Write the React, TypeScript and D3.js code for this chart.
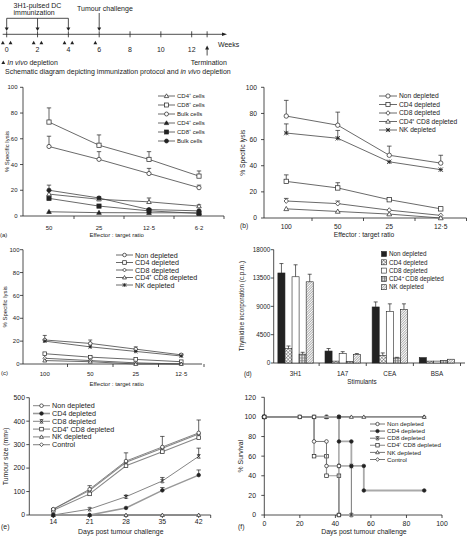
import React from 'react';
import * as d3 from 'd3';

const FONT = '"Liberation Sans", Arial, Helvetica, sans-serif';
const INK = '#222';

// ---------- Schematic ----------
const schedWeeks = [0, 2, 4, 6, 8, 10, 12];
const immunWeeks = [0, 2, 4];
const challengeWeek = 6;
const depletionWeeks = [-0.25, 0.25, 1.75, 2.25, 3.75, 4.25, 5.75];
const terminationWeek = 13;

// ---------- Panel a ----------
const ratiosA = ['50', '25', '12·5', '6·2'];
const aCD4open = [17, 13, 11, 7.7];
const aCD4openErr = [0, 0, 3, 1];
const aCD8open = [73, 55, 44, 31];
const aCD8openErr = [11, 8, 6, 4];
const aBulkOpen = [54, 44, 33, 22];
const aBulkOpenErr = [8, 6, 4, 2];
const aCD4filled = [3.3, 2.6, 2.5, 2.5];
const aCD8filled = [13.7, 7.7, 4, 2];
const aBulkFilled = [20, 14, 5, 4];
const aBulkFilledErr = [4, 1, 0, 0];

// ---------- Panel b ----------
const ratiosB = ['100', '50', '25', '12·5'];
const bNon = [78, 71, 48, 42];
const bNonErr = [12, 10, 7, 6];
const bCD4 = [28, 23, 14, 7];
const bCD4Err = [5, 4, 1, 0];
const bCD8 = [13, 11, 6, 2];
const bCD8Err = [2, 2, 0, 0];
const bCD4CD8 = [7, 5, 3, 0];
const bNK = [65, 61, 43, 37];
const bNKErr = [7, 6, 0, 0];

// ---------- Panel c ----------
const cNon = [21, 18, 13, 8];
const cNonErr = [4, 3, 2, 1];
const cCD4 = [9, 6, 4, 2];
const cCD8 = [5, 3, 1, 0];
const cCD4CD8 = [3, 2, 0, 0];
const cNK = [20, 15, 11, 7];

// ---------- Panel d ----------
const stimulants = ['3H1', '1A7', 'CEA', 'BSA'];
const dGroups = ['Non depleted', 'CD4 depleted', 'CD8 depleted', 'CD4⁺ CD8 depleted', 'NK depleted'];
const dNon = [14300, 1900, 8900, 850];
const dNonErr = [1500, 400, 800, 0];
const dCD4 = [2300, 300, 1200, 300];
const dCD4Err = [400, 0, 400, 0];
const dCD8 = [13700, 1500, 8200, 300];
const dCD8Err = [1900, 300, 1200, 0];
const dCD4CD8 = [1400, 250, 800, 400];
const dCD4CD8Err = [300, 0, 100, 0];
const dNK = [12900, 1350, 8500, 600];
const dNKErr = [1200, 150, 900, 0];
const dTicks = [0, 4500, 9000, 13500, 18000];

// ---------- Panel e ----------
const daysE = [14, 21, 28, 35, 42];
const eNon = [25, 110, 230, 290, 350];
const eNonErr = [0, 15, 35, 45, 55];
const eCD4 = [0, 0, 30, 105, 170];
const eCD4Err = [0, 0, 0, 12, 22];
const eCD8 = [0, 25, 78, 145, 250];
const eCD8Err = [0, 0, 5, 15, 35];
const eCD4CD8 = [20, 90, 210, 270, 330];
const eNK = [0, 0, 0, 0, 0];
const eControl = [25, 105, 225, 285, 345];

// ---------- Panel f ----------
const fNon: [number, number][] = [[0, 100], [20, 100], [28, 100], [28, 75], [35, 75], [35, 50], [42, 50], [42, 0]];
const fCD4: [number, number][] = [[0, 100], [42, 100], [42, 75], [49, 75], [49, 50], [56, 50], [56, 25], [90, 25]];
const fCD8: [number, number][] = [[0, 100], [35, 100], [42, 100], [42, 50], [49, 50], [49, 0]];
const fCD4CD8: [number, number][] = [[0, 100], [20, 100], [28, 100], [28, 60], [35, 60], [35, 40], [42, 40], [42, 0]];
const fNK: [number, number][] = [[0, 100], [35, 100], [49, 100], [56, 100], [90, 100]];
const fControl: [number, number][] = [[0, 100], [90, 100]];

type MT = 'circle' | 'square' | 'triangle' | 'diamond' | 'asterisk' | 'x';

function Marker({ t, x, y, s, fill }: { t: MT; x: number; y: number; s: number; fill: string }) {
  const h = s / 2;
  const sw = 0.7;
  if (t === 'circle') return <circle cx={x} cy={y} r={h} fill={fill} stroke={INK} strokeWidth={sw} />;
  if (t === 'square') return <rect x={x - h} y={y - h} width={s} height={s} fill={fill} stroke={INK} strokeWidth={sw} />;
  if (t === 'triangle')
    return <path d={`M${x},${y - h * 1.1}L${x + h * 1.1},${y + h * 0.8}L${x - h * 1.1},${y + h * 0.8}Z`} fill={fill} stroke={INK} strokeWidth={sw} />;
  if (t === 'diamond')
    return <path d={`M${x},${y - h * 1.1}L${x + h},${y}L${x},${y + h * 1.1}L${x - h},${y}Z`} fill={fill} stroke={INK} strokeWidth={sw} />;
  if (t === 'asterisk')
    return (
      <g stroke={INK} strokeWidth={0.8}>
        <line x1={x - h} y1={y - h} x2={x + h} y2={y + h} />
        <line x1={x - h} y1={y + h} x2={x + h} y2={y - h} />
        <line x1={x} y1={y - h} x2={x} y2={y + h} />
        <line x1={x - h} y1={y} x2={x + h} y2={y} />
      </g>
    );
  return (
    <g stroke={INK} strokeWidth={0.8}>
      <line x1={x - h} y1={y - h} x2={x + h} y2={y + h} />
      <line x1={x - h} y1={y + h} x2={x + h} y2={y - h} />
      <line x1={x - h * 0.7} y1={y - h} x2={x + h * 0.7} y2={y - h} />
      <line x1={x - h * 0.7} y1={y + h} x2={x + h * 0.7} y2={y + h} />
    </g>
  );
}

type Series = {
  name: string;
  values: number[];
  errs?: number[];
  m: MT;
  fill: string;
  lc?: string;
  lw?: number;
};

function LineSeries({ xs, y, s, ms, capW }: { xs: number[]; y: (v: number) => number; s: Series; ms: number; capW: number }) {
  const pts: [number, number][] = s.values.map((v, i) => [xs[i], y(v)]);
  const line = d3.line()(pts) || '';
  return (
    <g>
      <path d={line} fill="none" stroke={s.lc || '#444'} strokeWidth={s.lw || 0.8} />
      {s.errs &&
        s.values.map((v, i) =>
          s.errs![i] > 0 ? (
            <g key={'e' + i} stroke={INK} strokeWidth={0.7}>
              <line x1={xs[i]} x2={xs[i]} y1={y(v)} y2={y(v + s.errs![i])} />
              <line x1={xs[i] - capW} x2={xs[i] + capW} y1={y(v + s.errs![i])} y2={y(v + s.errs![i])} />
            </g>
          ) : null
        )}
      {pts.map((p, i) => (
        <Marker key={i} t={s.m} x={p[0]} y={p[1]} s={ms} fill={s.fill} />
      ))}
    </g>
  );
}

function Legend({ series, x0, x1, rows, fs, ms }: { series: Series[]; x0: number; x1: number; rows: number[]; fs: number; ms: number }) {
  return (
    <g>
      {series.map((s, i) => (
        <g key={i}>
          <line x1={x0} x2={x1} y1={rows[i]} y2={rows[i]} stroke={s.lc || '#444'} strokeWidth={s.lw || 0.8} />
          <Marker t={s.m} x={(x0 + x1) / 2} y={rows[i]} s={ms} fill={s.fill} />
          <text x={x1 + 2} y={rows[i]} dy="0.35em" fontSize={fs}>
            {s.name}
          </text>
        </g>
      ))}
    </g>
  );
}

function YAxis({ x, y, ticks, fs, fmt, labelRight }: { x: number; y: d3.ScaleLinear<number, number>; ticks: number[]; fs: number; fmt?: (v: number) => string; labelRight: number }) {
  const [d0, d1] = y.domain();
  return (
    <g>
      <line x1={x} x2={x} y1={y(d0)} y2={y(d1)} stroke={INK} strokeWidth={0.8} />
      {ticks.map((t) => (
        <g key={t}>
          <line x1={x - 3} x2={x} y1={y(t)} y2={y(t)} stroke={INK} strokeWidth={0.8} />
          <text x={labelRight} y={y(t)} dy="0.35em" textAnchor="end" fontSize={fs}>
            {fmt ? fmt(t) : String(t)}
          </text>
        </g>
      ))}
    </g>
  );
}

function Schematic() {
  const wx = d3.scaleLinear().domain([0, 12]).range([6.7, 191.7]);
  const ly = 34.3;
  const arrowDown = (x: number, y1: number, y2: number, k: string) => (
    <g key={k}>
      <line x1={x} x2={x} y1={y1} y2={y2 - 3} stroke={INK} strokeWidth={0.8} />
      <path d={`M${x - 2},${y2 - 3.5}L${x + 2},${y2 - 3.5}L${x},${y2}Z`} fill={INK} />
    </g>
  );
  const tri = (x: number, y: number, k: string) => <path key={k} d={`M${x},${y - 2}L${x + 1.9},${y + 1.6}L${x - 1.9},${y + 1.6}Z`} fill={INK} />;
  return (
    <g fontSize={7}>
      <line x1={2.7} x2={224} y1={ly} y2={ly} stroke={INK} strokeWidth={0.8} />
      <path d={`M222,${ly - 1.8}L227,${ly}L222,${ly + 1.8}Z`} fill={INK} />
      {[...schedWeeks, terminationWeek].map((w) => (
        <line key={'t' + w} x1={wx(w)} x2={wx(w)} y1={ly - 3} y2={ly + 3} stroke={INK} strokeWidth={0.8} />
      ))}
      {schedWeeks.map((w) => (
        <text key={'l' + w} x={wx(w)} y={51.5} textAnchor="middle">
          {w}
        </text>
      ))}
      <line x1={wx(immunWeeks[0])} x2={wx(immunWeeks[immunWeeks.length - 1])} y1={18.3} y2={18.3} stroke={INK} strokeWidth={0.8} />
      {immunWeeks.map((w) => arrowDown(wx(w), 18.3, 31, 'i' + w))}
      {arrowDown(wx(challengeWeek), 13, 31, 'c')}
      {depletionWeeks.map((w, i) => tri(wx(w), 42.7, 'd' + i))}
      <g>
        <line x1={wx(terminationWeek)} x2={wx(terminationWeek)} y1={49} y2={55.5} stroke={INK} strokeWidth={0.8} />
        <path d={`M${wx(terminationWeek) - 2},${49.5}L${wx(terminationWeek) + 2},${49.5}L${wx(terminationWeek)},${45.5}Z`} fill={INK} />
      </g>
      <text x={13.5} y={7.5}>3H1-pulsed DC</text>
      <text x={13.5} y={15.3}>immunization</text>
      <text x={77} y={11}>Tumour challenge</text>
      <text x={218} y={47.3}>Weeks</text>
      {tri(3.3, 62.4, 'leg')}
      <text x={7.3} y={64.5}>
        <tspan fontStyle="italic">In vivo</tspan> depletion
      </text>
      <text x={190.7} y={65}>Termination</text>
      <text x={5} y={74.3}>
        Schematic diagram depicting immunization protocol and <tspan fontStyle="italic">in vivo</tspan> depletion
      </text>
    </g>
  );
}

function PanelA() {
  const y = d3.scaleLinear().domain([0, 100]).range([216, 87.3]);
  const x = d3.scaleBand<string>().domain(ratiosA).range([24, 224]);
  const xs = ratiosA.map((c) => (x(c) as number) + x.bandwidth() / 2);
  const series: Series[] = [
    { name: 'CD4⁺ cells', values: aCD4open, errs: aCD4openErr, m: 'triangle', fill: '#fff' },
    { name: 'CD8⁺ cells', values: aCD8open, errs: aCD8openErr, m: 'square', fill: '#fff' },
    { name: 'Bulk cells', values: aBulkOpen, errs: aBulkOpenErr, m: 'circle', fill: '#fff' },
    { name: 'CD4⁺ cells', values: aCD4filled, m: 'triangle', fill: INK },
    { name: 'CD8⁺ cells', values: aCD8filled, m: 'square', fill: INK },
    { name: 'Bulk cells', values: aBulkFilled, errs: aBulkFilledErr, m: 'circle', fill: INK },
  ];
  const fs = 6;
  return (
    <g fontSize={fs}>
      <YAxis x={23} y={y} ticks={[0, 20, 40, 60, 80, 100]} fs={fs} labelRight={17.5} />
      <line x1={23} x2={224} y1={216} y2={216} stroke={INK} strokeWidth={0.8} />
      {ratiosA.map((c) => (
        <line key={c} x1={(x(c) as number) + x.bandwidth()} x2={(x(c) as number) + x.bandwidth()} y1={216} y2={219} stroke={INK} strokeWidth={0.8} />
      ))}
      {ratiosA.map((c, i) => (
        <text key={c} x={xs[i]} y={229.5} textAnchor="middle">
          {c}
        </text>
      ))}
      <text x={116.7} y={236.7} textAnchor="middle">Effector : target ratio</text>
      <text x={0} y={236.5}>(a)</text>
      <text transform={`translate(9,${(87.3 + 216) / 2}) rotate(-90)`} textAnchor="middle">
        % Specific lysis
      </text>
      {series.map((s, i) => (
        <LineSeries key={i} xs={xs} y={y} s={s} ms={4.2} capW={2.2} />
      ))}
      <Legend series={series} x0={158} x1={175} rows={[96, 105, 114, 123, 132, 141]} fs={fs} ms={4} />
    </g>
  );
}

function PanelB() {
  const y = d3.scaleLinear().domain([0, 100]).range([218, 87.3]);
  const x = d3.scaleBand<string>().domain(ratiosB).range([260.5, 466.5]);
  const xs = ratiosB.map((c) => (x(c) as number) + x.bandwidth() / 2);
  const series: Series[] = [
    { name: 'Non depleted', values: bNon, errs: bNonErr, m: 'circle', fill: '#fff' },
    { name: 'CD4 depleted', values: bCD4, errs: bCD4Err, m: 'square', fill: '#fff' },
    { name: 'CD8 depleted', values: bCD8, errs: bCD8Err, m: 'diamond', fill: '#fff' },
    { name: 'CD4⁺ CD8 depleted', values: bCD4CD8, m: 'triangle', fill: '#fff' },
    { name: 'NK depleted', values: bNK, errs: bNKErr, m: 'asterisk', fill: '#fff' },
  ];
  const fs = 6.7;
  return (
    <g fontSize={fs}>
      <YAxis x={264} y={y} ticks={[0, 20, 40, 60, 80, 100]} fs={fs} labelRight={257} />
      <line x1={264} x2={466.5} y1={218} y2={218} stroke={INK} strokeWidth={0.8} />
      {ratiosB.map((c) => (
        <line key={c} x1={(x(c) as number) + x.bandwidth()} x2={(x(c) as number) + x.bandwidth()} y1={218} y2={221} stroke={INK} strokeWidth={0.8} />
      ))}
      {ratiosB.map((c, i) => (
        <text key={c} x={xs[i]} y={229.3} textAnchor="middle">
          {c}
        </text>
      ))}
      <text x={364} y={237} textAnchor="middle">Effector : target ratio</text>
      <text x={240} y={227.5}>(b)</text>
      <text transform={`translate(245,${(87.3 + 218) / 2}) rotate(-90)`} textAnchor="middle">
        % Specific lysis
      </text>
      {series.map((s, i) => (
        <LineSeries key={i} xs={xs} y={y} s={s} ms={4.4} capW={2.3} />
      ))}
      <Legend series={series} x0={379} x1={397} rows={[96, 104.5, 113, 121.5, 130]} fs={fs} ms={4.2} />
    </g>
  );
}

function PanelC() {
  const y = d3.scaleLinear().domain([0, 100]).range([364, 249.7]);
  const x = d3.scaleBand<string>().domain(ratiosB).range([22, 204]);
  const xs = ratiosB.map((c) => (x(c) as number) + x.bandwidth() / 2);
  const series: Series[] = [
    { name: 'Non depleted', values: cNon, errs: cNonErr, m: 'circle', fill: '#fff' },
    { name: 'CD4 depleted', values: cCD4, m: 'square', fill: '#fff' },
    { name: 'CD8 depleted', values: cCD8, m: 'diamond', fill: '#fff' },
    { name: 'CD4⁺ CD8 depleted', values: cCD4CD8, m: 'triangle', fill: '#fff' },
    { name: 'NK depleted', values: cNK, m: 'asterisk', fill: '#fff' },
  ];
  const fs = 6;
  return (
    <g fontSize={fs}>
      <YAxis x={23} y={y} ticks={[0, 20, 40, 60, 80, 100]} fs={fs} labelRight={19.5} />
      <line x1={23} x2={202} y1={364} y2={364} stroke={INK} strokeWidth={0.8} />
      {ratiosB.map((c) => (
        <line key={c} x1={(x(c) as number) + x.bandwidth()} x2={(x(c) as number) + x.bandwidth()} y1={364} y2={367} stroke={INK} strokeWidth={0.8} />
      ))}
      {ratiosB.map((c, i) => (
        <text key={c} x={xs[i]} y={376} textAnchor="middle">
          {c}
        </text>
      ))}
      <text x={116.7} y={385.5} textAnchor="middle">Effector : target ratio</text>
      <text x={1} y={374.5}>(c)</text>
      <text transform={`translate(7,${(249.7 + 364) / 2}) rotate(-90)`} textAnchor="middle">
        % Specific lysis
      </text>
      {series.map((s, i) => (
        <LineSeries key={i} xs={xs} y={y} s={s} ms={3.6} capW={2} />
      ))}
      <Legend series={series} x0={116} x1={133} rows={[255, 262.5, 270, 277.5, 285]} fs={7.2} ms={3.6} />
    </g>
  );
}

function PanelD() {
  const y = d3.scaleLinear().domain([0, 18000]).range([363, 249.7]);
  const x = d3.scaleBand<string>().domain(stimulants).range([272, 460.5]).paddingInner(0.25).paddingOuter(0.125);
  const xi = d3.scaleBand<string>().domain(dGroups).range([0, x.bandwidth()]);
  const vals = [dNon, dCD4, dCD8, dCD4CD8, dNK];
  const errs = [dNonErr, dCD4Err, dCD8Err, dCD4CD8Err, dNKErr];
  const fills = [INK, 'url(#pCross)', '#fff', 'url(#pGrid)', 'url(#pDiag)'];
  const fs = 6.3;
  const step = x.step();
  return (
    <g fontSize={fs}>
      <defs>
        <pattern id="pCross" width={2.5} height={2.5} patternUnits="userSpaceOnUse" patternTransform="rotate(45)">
          <rect width={2.5} height={2.5} fill="#fff" />
          <line x1={0} y1={0} x2={0} y2={2.5} stroke="#555" strokeWidth={0.9} />
          <line x1={0} y1={0} x2={2.5} y2={0} stroke="#555" strokeWidth={0.9} />
        </pattern>
        <pattern id="pGrid" width={1.6} height={1.6} patternUnits="userSpaceOnUse">
          <rect width={1.6} height={1.6} fill="#fff" />
          <line x1={0.4} y1={0} x2={0.4} y2={1.6} stroke="#555" strokeWidth={0.6} />
          <line x1={0} y1={0.4} x2={1.6} y2={0.4} stroke="#777" strokeWidth={0.5} />
        </pattern>
        <pattern id="pDiag" width={1.8} height={1.8} patternUnits="userSpaceOnUse" patternTransform="rotate(45)">
          <rect width={1.8} height={1.8} fill="#fff" />
          <line x1={0} y1={0} x2={0} y2={1.8} stroke="#444" strokeWidth={0.8} />
        </pattern>
      </defs>
      <YAxis x={273.7} y={y} ticks={dTicks} fs={fs} labelRight={270.3} />
      <line x1={273.7} x2={465} y1={363} y2={363} stroke={INK} strokeWidth={0.8} />
      {stimulants.map((c) => {
        const tx = (x(c) as number) + x.bandwidth() + (step - x.bandwidth()) / 2;
        return <line key={c} x1={tx} x2={tx} y1={363} y2={366} stroke={INK} strokeWidth={0.8} />;
      })}
      {stimulants.map((c, ci) =>
        dGroups.map((g, gi) => {
          const bx = (x(c) as number) + (xi(g) as number);
          const v = vals[gi][ci];
          const e = errs[gi][ci];
          const cx = bx + xi.bandwidth() / 2;
          return (
            <g key={c + g}>
              {e > 0 && (
                <g stroke={INK} strokeWidth={0.7}>
                  <line x1={cx} x2={cx} y1={y(v)} y2={y(v + e)} />
                  <line x1={cx - 2} x2={cx + 2} y1={y(v + e)} y2={y(v + e)} />
                </g>
              )}
              <rect x={bx} y={y(v)} width={xi.bandwidth()} height={363 - y(v)} fill={fills[gi]} stroke={INK} strokeWidth={0.6} />
            </g>
          );
        })
      )}
      {stimulants.map((c) => (
        <text key={c} x={(x(c) as number) + x.bandwidth() / 2} y={376} textAnchor="middle">
          {c}
        </text>
      ))}
      <text x={362} y={384} textAnchor="middle">Stimulants</text>
      <text x={244} y={375.5}>(d)</text>
      <text transform={`translate(244,${306}) rotate(-90)`} textAnchor="middle">
        Thymidine incorporation (c.p.m.)
      </text>
      {dGroups.map((g, i) => {
        const ry = 254 + i * 8.3;
        return (
          <g key={g}>
            <rect x={381.5} y={ry - 2.5} width={5} height={5} fill={fills[i]} stroke={INK} strokeWidth={0.6} />
            <text x={389} y={ry} dy="0.35em">
              {g}
            </text>
          </g>
        );
      })}
    </g>
  );
}

function PanelE() {
  const y = d3.scaleLinear().domain([0, 500]).range([515, 397.7]);
  const x = d3.scalePoint<string>().domain(daysE.map(String)).range([53.3, 198.7]);
  const xs = daysE.map((d) => x(String(d)) as number);
  const series: Series[] = [
    { name: 'Non depleted', values: eNon, errs: eNonErr, m: 'circle', fill: '#fff', lc: '#666' },
    { name: 'CD4 depleted', values: eCD4, errs: eCD4Err, m: 'circle', fill: INK, lc: '#999', lw: 1.6 },
    { name: 'CD8 depleted', values: eCD8, errs: eCD8Err, m: 'x', fill: '#fff', lc: '#666' },
    { name: 'CD4⁺ CD8 depleted', values: eCD4CD8, m: 'square', fill: '#fff', lc: '#888', lw: 1.1 },
    { name: 'NK depleted', values: eNK, m: 'triangle', fill: '#fff', lc: '#666' },
    { name: 'Control', values: eControl, m: 'diamond', fill: '#fff', lc: '#888', lw: 1.1 },
  ];
  const fs = 6.9;
  return (
    <g fontSize={fs}>
      <YAxis x={29.3} y={y} ticks={[0, 100, 200, 300, 400, 500]} fs={fs} labelRight={25} />
      <line x1={29.3} x2={210.7} y1={515} y2={515} stroke={INK} strokeWidth={0.8} />
      {[...xs, 210.7].map((t, i) => (
        <line key={i} x1={t} x2={t} y1={515} y2={518} stroke={INK} strokeWidth={0.8} />
      ))}
      {daysE.map((d, i) => (
        <text key={d} x={xs[i]} y={523.5} textAnchor="middle">
          {d}
        </text>
      ))}
      <text x={120.8} y={534} textAnchor="middle">Days post tumour challenge</text>
      <text x={1} y={529}>(e)</text>
      <text transform={`translate(8,${(397.7 + 515) / 2}) rotate(-90)`} textAnchor="middle">
        Tumour size (mm²)
      </text>
      {[...series].reverse().map((s, i) => (
        <LineSeries key={i} xs={xs} y={y} s={s} ms={3.6} capW={2.2} />
      ))}
      <Legend series={series} x0={33} x1={50} rows={series.map((_, i) => 405.7 + i * 7.8)} fs={7.2} ms={3.6} />
    </g>
  );
}

function PanelF() {
  const y = d3.scaleLinear().domain([0, 120]).range([515, 397.3]);
  const x = d3.scaleLinear().domain([0, 100]).range([264.3, 442]);
  const fs = 6.9;
  const curves: { name: string; pts: [number, number][]; m: MT; fill: string; lc: string; lw: number }[] = [
    { name: 'Non depleted', pts: fNon, m: 'circle', fill: '#fff', lc: '#777', lw: 1 },
    { name: 'CD4 depleted', pts: fCD4, m: 'circle', fill: INK, lc: '#aaa', lw: 1.8 },
    { name: 'CD8 depleted', pts: fCD8, m: 'x', fill: '#fff', lc: '#777', lw: 1 },
    { name: 'CD4⁺ CD8 depleted', pts: fCD4CD8, m: 'square', fill: '#fff', lc: '#999', lw: 1.2 },
    { name: 'NK depleted', pts: fNK, m: 'triangle', fill: '#fff', lc: '#777', lw: 1 },
    { name: 'Control', pts: fControl, m: 'diamond', fill: '#fff', lc: '#777', lw: 1 },
  ];
  const legSeries: Series[] = curves.map((c) => ({ name: c.name, values: [], m: c.m, fill: c.fill, lc: c.lc, lw: c.lw }));
  return (
    <g fontSize={fs}>
      <YAxis x={264.3} y={y} ticks={[0, 20, 40, 60, 80, 100, 120]} fs={fs} labelRight={256} />
      <line x1={264.3} x2={442} y1={515} y2={515} stroke={INK} strokeWidth={0.8} />
      {[0, 20, 40, 60, 80, 100].map((t) => (
        <g key={t}>
          <line x1={x(t)} x2={x(t)} y1={515} y2={518} stroke={INK} strokeWidth={0.8} />
          <text x={x(t)} y={526.3} textAnchor="middle">
            {t}
          </text>
        </g>
      ))}
      <text x={364} y={534} textAnchor="middle">Days post tumour challenge</text>
      <text x={238} y={529}>(f)</text>
      <text transform={`translate(243,${(397.3 + 515) / 2}) rotate(-90)`} textAnchor="middle">
        % Survival
      </text>
      {[...curves].reverse().map((c, i) => {
        const pts = c.pts.map((p) => [x(p[0]), y(p[1])] as [number, number]);
        return (
          <g key={i}>
            <path d={d3.line()(pts) || ''} fill="none" stroke={c.lc} strokeWidth={c.lw} />
            {pts.map((p, j) => (
              <Marker key={j} t={c.m} x={p[0]} y={p[1]} s={3.6} fill={c.fill} />
            ))}
          </g>
        );
      })}
      <Legend series={legSeries} x0={370} x1={385} rows={curves.map((_, i) => 424 + i * 7.1)} fs={6.2} ms={3.4} />
    </g>
  );
}

export default function App() {
  return (
    <svg
      width={467}
      height={536}
      viewBox="0 0 467 536"
      style={{ position: 'absolute', left: 0, top: 0, background: '#fff' }}
      fontFamily={FONT}
      fill={INK}
    >
      <rect width={467} height={536} fill="#fff" />
      <Schematic />
      <PanelA />
      <PanelB />
      <PanelC />
      <PanelD />
      <PanelE />
      <PanelF />
    </svg>
  );
}
